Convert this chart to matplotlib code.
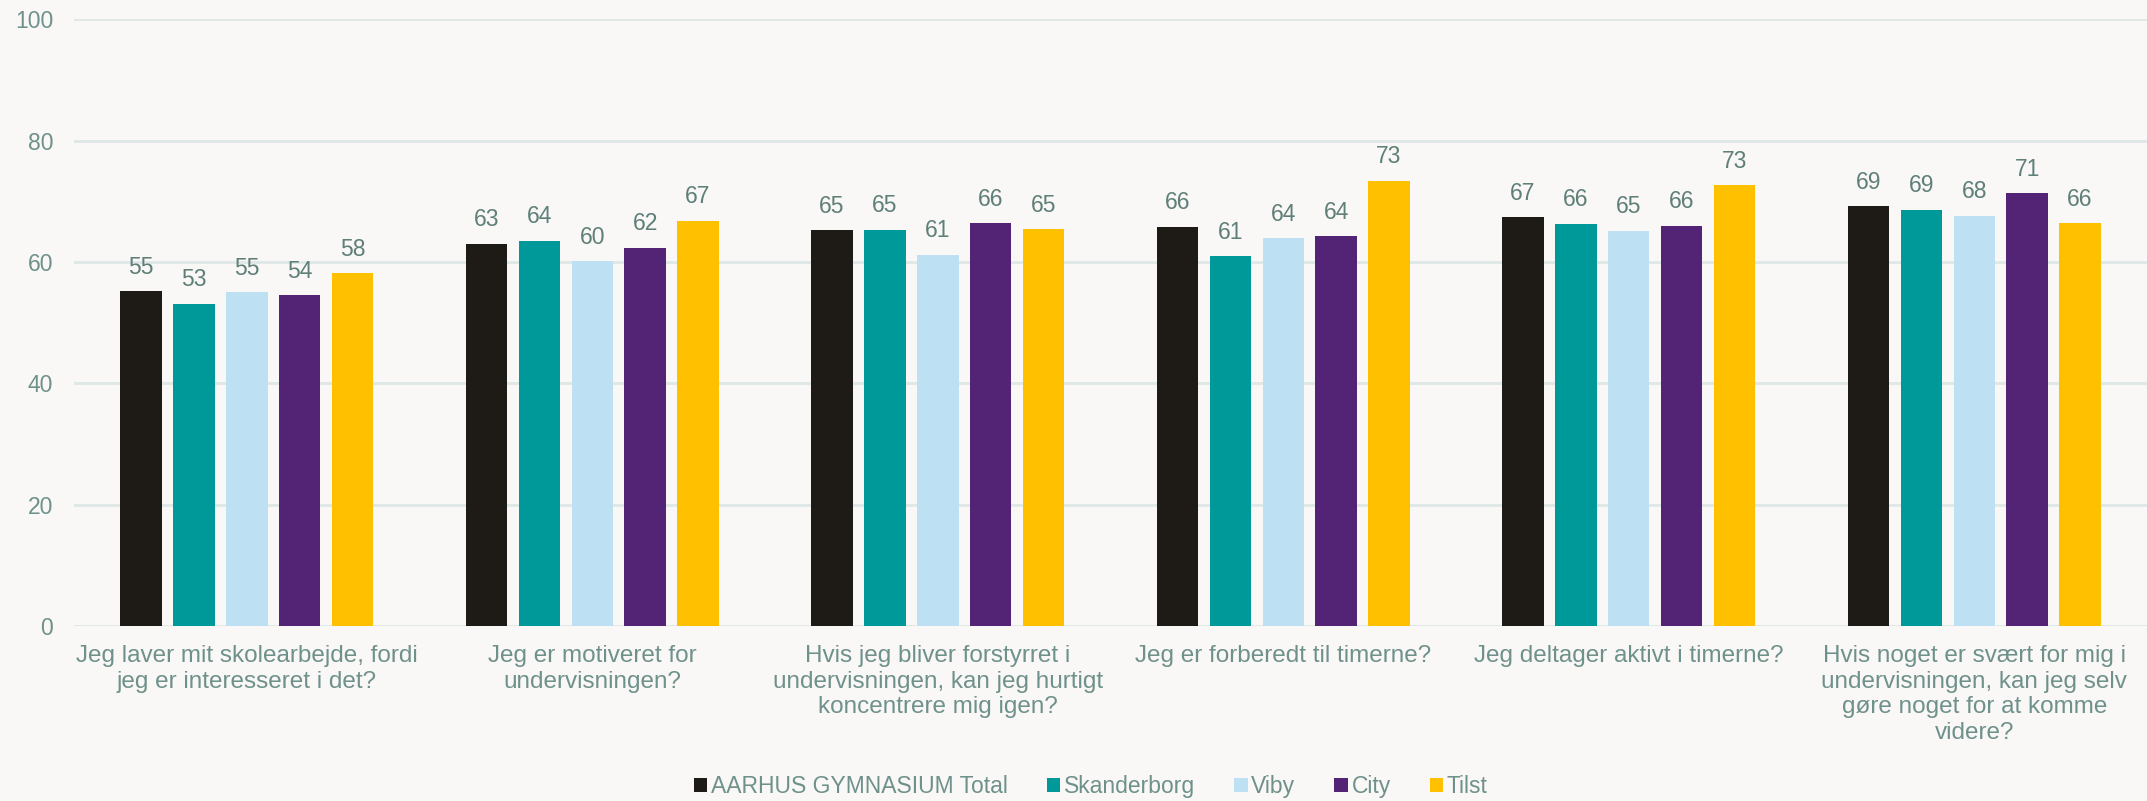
import matplotlib
matplotlib.use("Agg")
import matplotlib.pyplot as plt
import numpy as np

categories = [
    "Jeg laver mit skolearbejde, fordi\njeg er interesseret i det?",
    "Jeg er motiveret for\nundervisningen?",
    "Hvis jeg bliver forstyrret i\nundervisningen, kan jeg hurtigt\nkoncentrere mig igen?",
    "Jeg er forberedt til timerne?",
    "Jeg deltager aktivt i timerne?",
    "Hvis noget er svært for mig i\nundervisningen, kan jeg selv\ngøre noget for at komme\nvidere?",
]
series_names = ["AARHUS GYMNASIUM Total", "Skanderborg", "Viby", "City", "Tilst"]
total = [55.2, 63.0, 65.2, 65.8, 67.4, 69.2]
skanderborg = [53.1, 63.5, 65.3, 60.9, 66.3, 68.6]
viby = [55.0, 60.1, 61.2, 63.9, 65.1, 67.6]
city = [54.5, 62.3, 66.4, 64.2, 66.0, 71.3]
tilst = [58.1, 66.8, 65.4, 73.4, 72.6, 66.4]
series = [total, skanderborg, viby, city, tilst]
colors = ["#1e1a16", "#009999", "#bee0f3", "#532375", "#ffc000"]

BG = "#f9f8f6"
TXT = "#6f918b"
LBL = "#5f7f79"
FS = 16.5      # numbers, ticks, legend
FS_CAT = 17.5  # category labels

plt.rcParams["font.family"] = ["Liberation Sans", "DejaVu Sans"]

fig = plt.figure(figsize=(21.47, 8.01), dpi=100, facecolor=BG)
ax = fig.add_axes([0.0345, 0.2185, 0.9655, 0.7575], facecolor=BG)

x = np.arange(len(categories))
pitch = 0.153
width = 0.12
for i, (vals, name, c) in enumerate(zip(series, series_names, colors)):
    pos = x + (i - 2) * pitch
    bars = ax.bar(pos, vals, width, color=c, label=name, zorder=3)
    for b, v in zip(bars, vals):
        ax.annotate(f"{v:.0f}", (b.get_x() + b.get_width() / 2, v),
                    xytext=(0, 9), textcoords="offset points",
                    ha="center", va="bottom", fontsize=FS, color=LBL)

ax.set_ylim(0, 100)
ax.set_xlim(-0.5, len(categories) - 0.5)
ax.set_yticks(range(0, 101, 20))
ax.yaxis.grid(True, color="#dfe7e7", linewidth=2, zorder=0)
ax.set_axisbelow(True)
for s in ax.spines.values():
    s.set_visible(False)
ax.tick_params(axis="y", length=0, pad=15, labelsize=FS, labelcolor=TXT)
ax.tick_params(axis="x", length=0, pad=14, labelsize=FS_CAT, labelcolor=TXT)
ax.set_xticks(x)
ax.set_xticklabels(categories, linespacing=1.2)

fig.legend(loc="lower center", bbox_to_anchor=(0.508, -0.022), ncol=5,
           frameon=False, fontsize=FS, labelcolor=TXT,
           handlelength=0.6, handleheight=0.6, handletextpad=0.15,
           columnspacing=1.7)

fig.savefig("out.png", dpi=100, facecolor=BG)
